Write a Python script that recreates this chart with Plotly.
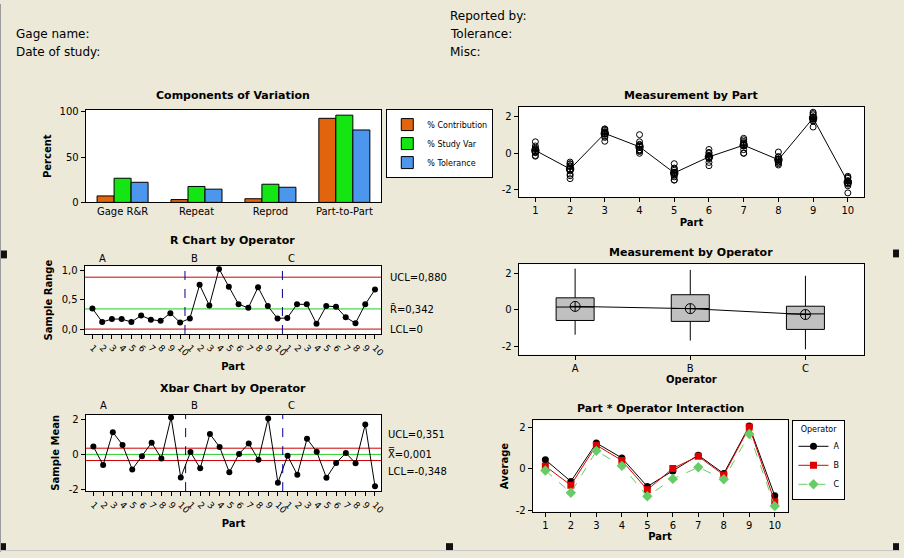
import numpy as np
import plotly.graph_objects as go

# ---------------- data ----------------
parts = list(range(1, 11))
operators = ["A", "B", "C"]
# measurements: rows = trials, columns = parts 1..10
meas_A = [[0.29, -0.56, 1.34, 0.47, -0.80, 0.02, 0.59, -0.31, 2.26, -1.36],
          [0.41, -0.68, 1.17, 0.50, -0.92, -0.11, 0.75, -0.20, 1.99, -1.25],
          [0.64, -0.58, 1.27, 0.64, -0.84, -0.21, 0.66, -0.17, 2.01, -1.31]]
meas_B = [[0.08, -0.47, 1.19, 0.01, -0.56, -0.20, 0.47, -0.63, 1.80, -1.68],
          [0.25, -1.22, 0.94, 1.03, -1.20, 0.22, 0.55, 0.08, 2.12, -1.62],
          [0.07, -0.68, 1.34, 0.20, -1.28, 0.06, 0.83, -0.34, 2.19, -1.50]]
meas_C = [[0.04, -1.38, 0.88, 0.14, -1.46, -0.29, 0.02, -0.46, 1.77, -1.49],
          [-0.11, -1.13, 1.09, 0.20, -1.07, -0.67, 0.01, -0.56, 1.45, -1.77],
          [-0.15, -0.96, 0.67, 0.11, -1.45, -0.49, 0.21, -0.49, 1.87, -2.16]]

components = ["Gage R&R", "Repeat", "Reprod", "Part-to-Part"]
series_names = ["% Contribution", "% Study Var", "% Tolerance"]
pct_contribution = [7.12, 3.09, 4.03, 92.88]
pct_study_var = [26.68, 17.59, 20.06, 96.37]
pct_tolerance = [22.2, 14.6, 16.7, 80.0]

comp_ticks = [0, 50, 100]
meas_ticks = [-2, 0, 2]
r_ticks = [0.0, 0.5, 1.0]

D4 = 2.575   # n = 3
A2 = 1.023   # n = 3

header_left = ["Gage name:", "Date of study:"]
header_right = ["Reported by:", "Tolerance:", "Misc:"]

# ---------------- derived ----------------
meas = {"A": np.array(meas_A), "B": np.array(meas_B), "C": np.array(meas_C)}
ranges = np.concatenate([meas[o].max(0) - meas[o].min(0) for o in operators])
means = np.concatenate([meas[o].mean(0) for o in operators])
seq = list(range(1, len(ranges) + 1))
seq_text = [str(p) for p in parts] * len(operators)
r_bar = ranges.mean()
r_ucl = D4 * r_bar
r_lcl = 0.0
x_dbar = means.mean()
x_ucl = x_dbar + A2 * r_bar
x_lcl = x_dbar - A2 * r_bar

def fmt(v):
    return f"{v:.3f}".replace(".", ",")

# ---------------- layout helpers ----------------
W, H = 904, 558
FONT = "DejaVu Sans"
BG = "#ECE9D8"

def dx(a, b):
    return [a / W, b / W]

def dy(top, bottom):
    return [1 - bottom / H, 1 - top / H]

def px(a):
    return a / W

def py(b):
    return 1 - b / H

axis_style = dict(showline=True, linecolor="black", linewidth=1, mirror=True,
                  ticks="outside", ticklen=4, tickcolor="black", showgrid=False,
                  zeroline=False, tickfont=dict(family=FONT, size=10, color="black"))

def ttl(t):
    return dict(text="<b>" + t + "</b>", font=dict(family=FONT, size=10, color="black"))

fig = go.Figure()

# ---- 1. Components of Variation ----
comp_colors = ["#E2640C", "#14E614", "#4C96EE"]
for name, vals, col in zip(series_names, [pct_contribution, pct_study_var, pct_tolerance], comp_colors):
    fig.add_trace(go.Bar(x=components, y=vals, name=name, xaxis="x", yaxis="y",
                         marker=dict(color=col, line=dict(color="black", width=1)),
                         legend="legend"))

# ---- 2. Measurement by Part ----
px_list, py_list = [], []
for o in operators:
    for t in range(meas[o].shape[0]):
        px_list += parts
        py_list += list(meas[o][t])
fig.add_trace(go.Scatter(x=px_list, y=py_list, mode="markers", xaxis="x2", yaxis="y2",
                         marker=dict(symbol="circle-open", size=6, color="black", line=dict(width=1)),
                         showlegend=False))
part_means = np.mean([meas[o].mean(0) for o in operators], axis=0)
fig.add_trace(go.Scatter(x=parts, y=part_means, mode="lines+markers", xaxis="x2", yaxis="y2",
                         line=dict(color="black", width=1),
                         marker=dict(symbol="circle-cross-open", size=7, color="black", line=dict(width=1.5)),
                         showlegend=False))

# ---- 3. R chart ----
fig.add_trace(go.Scatter(x=seq, y=ranges, mode="lines+markers", xaxis="x3", yaxis="y3",
                         line=dict(color="black", width=1),
                         marker=dict(symbol="circle", size=6, color="black"), showlegend=False))

# ---- 4. Xbar chart ----
fig.add_trace(go.Scatter(x=seq, y=means, mode="lines+markers", xaxis="x4", yaxis="y4",
                         line=dict(color="black", width=1),
                         marker=dict(symbol="circle", size=6, color="black"), showlegend=False))

# ---- 5. Measurement by Operator ----
op_means = []
for o in operators:
    vals = meas[o].flatten()
    op_means.append(vals.mean())
    fig.add_trace(go.Box(x=[o] * len(vals), y=vals, xaxis="x5", yaxis="y5",
                         fillcolor="#C0C0C0", line=dict(color="black", width=1),
                         boxpoints=False, whiskerwidth=0, width=0.33,
                         quartilemethod="exclusive", showlegend=False, hoverinfo="y"))
fig.add_trace(go.Scatter(x=operators, y=op_means, mode="lines+markers", xaxis="x5", yaxis="y5",
                         line=dict(color="black", width=1),
                         marker=dict(symbol="circle-cross-open", size=10, color="black", line=dict(width=1)),
                         showlegend=False))

# ---- 6. Interaction ----
int_styles = {
    "A": dict(color="black", symbol="circle", dash="solid", size=7),
    "B": dict(color="#E00000", symbol="square", dash="solid", size=7),
    "C": dict(color="#66CC66", symbol="diamond", dash="dash", size=8),
}
for o in operators:
    s = int_styles[o]
    fig.add_trace(go.Scatter(x=parts, y=meas[o].mean(0), mode="lines+markers", name=o,
                             xaxis="x6", yaxis="y6", legend="legend2",
                             line=dict(color=s["color"], width=1, dash=s["dash"]),
                             marker=dict(symbol=s["symbol"], size=s["size"], color=s["color"])))

# ---------------- axes ----------------
seq_range = [0.2, len(seq) + 0.65]
layout_axes = dict(
    xaxis=dict(axis_style, domain=dx(86, 383), anchor="y", type="category", ticks=""),
    yaxis=dict(axis_style, domain=dy(108, 202), anchor="x", range=[0, 102],
               tickvals=comp_ticks, title=dict(ttl("Percent"), standoff=6)),
    xaxis2=dict(axis_style, domain=dx(521, 868), anchor="y2", range=[0.52, 10.47],
                tickvals=parts, title=dict(ttl("Part"), standoff=3)),
    yaxis2=dict(axis_style, domain=dy(105, 197), anchor="x2", range=[-2.41, 2.54],
                tickvals=meas_ticks, ticktext=[f"{v:g}" for v in meas_ticks]),
    xaxis3=dict(axis_style, domain=dx(85, 383), anchor="y3", range=seq_range,
                tickvals=seq, ticktext=seq_text, tickangle=45,
                tickfont=dict(family=FONT, size=9, color="black"),
                title=dict(ttl("Part"), standoff=5)),
    yaxis3=dict(axis_style, domain=dy(267, 336), anchor="x3", range=[-0.083, 1.066],
                tickvals=r_ticks, tickformat=".1f", title=dict(ttl("Sample Range"), standoff=7)),
    xaxis4=dict(axis_style, domain=dx(86, 383), anchor="y4", range=seq_range,
                tickvals=seq, ticktext=seq_text, tickangle=45,
                tickfont=dict(family=FONT, size=9, color="black"),
                title=dict(ttl("Part"), standoff=5)),
    yaxis4=dict(axis_style, domain=dy(418, 496), anchor="x4", range=[-2.08, 2.26],
                tickvals=meas_ticks, ticktext=[f"{v:g}" for v in meas_ticks],
                title=dict(ttl("Sample Mean"), standoff=7)),
    xaxis5=dict(axis_style, domain=dx(521, 868), anchor="y5", range=[-0.49, 2.51],
                type="category", title=dict(ttl("Operator"), standoff=3)),
    yaxis5=dict(axis_style, domain=dy(265, 357), anchor="x5", range=[-2.45, 2.5],
                tickvals=meas_ticks, ticktext=[f"{v:g}" for v in meas_ticks]),
    xaxis6=dict(axis_style, domain=dx(535, 791), anchor="y6", range=[0.5, 10.5],
                tickvals=parts, title=dict(ttl("Part"), standoff=3)),
    yaxis6=dict(axis_style, domain=dy(424, 517), anchor="x6", range=[-2.08, 2.36],
                tickvals=meas_ticks, ticktext=[f"{v:g}" for v in meas_ticks],
                title=dict(ttl("Average"), standoff=5)),
)

# ---------------- shapes ----------------
shapes = []
for yref, val, col in [("y3", r_ucl, "#CC0000"), ("y3", r_bar, "#22CC22"), ("y3", r_lcl, "#CC0000"),
                       ("y4", x_ucl, "#CC0000"), ("y4", x_dbar, "#22CC22"), ("y4", x_lcl, "#CC0000")]:
    xr = "x3" if yref == "y3" else "x4"
    shapes.append(dict(type="line", xref=xr + " domain", yref=yref, x0=0, x1=1, y0=val, y1=val,
                       line=dict(color=col, width=1), layer="below"))
for xr, yr in [("x3", "y3"), ("x4", "y4")]:
    for k in range(1, len(operators)):
        xv = k * len(parts) + 0.5
        shapes.append(dict(type="line", xref=xr, yref=yr + " domain", x0=xv, x1=xv, y0=0, y1=1,
                           line=dict(color="#00008B", width=1, dash="dash")))
# window frame + resize handles
shapes.append(dict(type="line", xref="paper", yref="paper", x0=px(0.5), x1=px(0.5), y0=0, y1=1,
                   line=dict(color="#9A9A9A", width=1)))
shapes.append(dict(type="line", xref="paper", yref="paper", x0=0, x1=1, y0=py(556.5), y1=py(556.5),
                   line=dict(color="#C8C8C8", width=1)))
for (a, b, c, d) in [(1, 251, 7, 259), (897, 250, 903, 258), (1, 549, 6, 556),
                     (448, 549, 455, 556), (897, 549, 903, 556)]:
    shapes.append(dict(type="rect", xref="paper", yref="paper", x0=px(a), x1=px(c), y0=py(d), y1=py(b),
                       fillcolor="#111111", line=dict(width=0)))

# ---------------- annotations ----------------
ann = []
def text(x, y, t, size=12, bold=False, xanchor="left", xref="paper", yref="paper"):
    ann.append(dict(x=x, y=y, xref=xref, yref=yref, text=("<b>%s</b>" % t) if bold else t,
                    showarrow=False, xanchor=xanchor, yanchor="middle",
                    font=dict(family=FONT, size=size, color="black")))

for i, t in enumerate(header_left):
    text(px(14), py(31 + 18 * i), t)
for i, t in enumerate(header_right):
    text(px(450), py(12 + 18.5 * i), t)

text(px(234), py(93), "Components of Variation", 11, True, "center")
text(px(694), py(93), "Measurement by Part", 11, True, "center")
text(px(234), py(241), "R Chart by Operator", 11, True, "center")
text(px(694), py(253), "Measurement by Operator", 11, True, "center")
text(px(234), py(392), "Xbar Chart by Operator", 11, True, "center")
text(px(663), py(412), "Part * Operator Interaction", 11, True, "center")

label_pos = [2.0, 11.45, 21.45]
for o, xv in zip(operators, label_pos):
    text(xv, py(259), o, 10, False, "center", xref="x3")
    text(xv, py(409), o, 10, False, "center", xref="x4")

text(px(390), r_ucl, "UCL=" + fmt(r_ucl), 10, yref="y3")
text(px(390), r_bar, "R\u0304=" + fmt(r_bar), 10, yref="y3")
text(px(390), r_lcl, "LCL=0", 10, yref="y3")
text(px(388), py(438), "UCL=" + fmt(x_ucl), 10)
text(px(388), py(458), "X\u033F=" + fmt(x_dbar), 10)
text(px(388), py(476), "LCL=" + fmt(x_lcl), 10)

fig.update_layout(
    width=W, height=H, autosize=False,
    margin=dict(l=0, r=0, t=0, b=0),
    paper_bgcolor=BG, plot_bgcolor="white",
    separators=",.",
    barmode="group", bargap=0.31, bargroupgap=0,
    font=dict(family=FONT, size=10, color="black"),
    shapes=shapes, annotations=ann,
    legend=dict(x=px(388), y=py(107), xanchor="left", yanchor="top",
                bgcolor="white", bordercolor="black", borderwidth=1,
                font=dict(family=FONT, size=8, color="black"), tracegroupgap=0,
                itemwidth=30),
    legend2=dict(x=px(796), y=py(424), xanchor="left", yanchor="top",
                 bgcolor="white", bordercolor="black", borderwidth=1,
                 font=dict(family=FONT, size=8, color="black"),
                 title=dict(text="Operator", side="top center",
                            font=dict(family=FONT, size=8, color="black"))),
    **layout_axes,
)

fig.write_html("out.html", config={"displayModeBar": False},
               post_script="document.body.style.margin='0';document.body.style.background='%s';" % BG)
